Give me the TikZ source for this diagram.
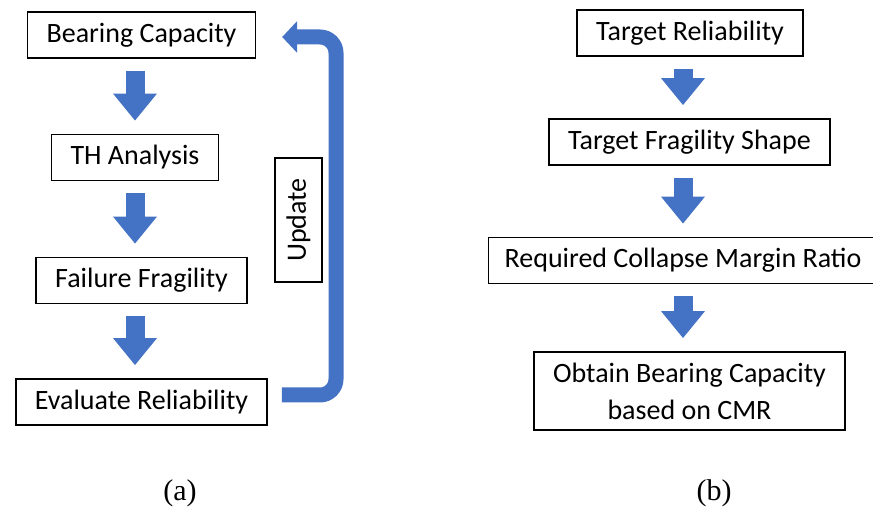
\documentclass[tikz,border=0pt]{standalone}
\usepackage{fontspec}
\setmainfont{Carlito}
\newfontfamily\capfont{Liberation Serif}
\usetikzlibrary{arrows.meta}
\definecolor{flowblue}{HTML}{4472C4}

\begin{document}
\begin{tikzpicture}[x=1pt, y=-1pt,
    font=\fontsize{28}{37}\selectfont,
    box/.style={rectangle,draw=black,line width=1.6pt,fill=white,
                minimum height=46pt,inner xsep=19pt,align=center},
    down/.style={-{Triangle[width=42pt,length=27pt]},flowblue,line width=19pt,
                 shorten <=12pt,shorten >=13pt},
    loopback/.style={-{Triangle[width=31pt,length=15pt]},flowblue,line width=15pt,
                 rounded corners=16pt,shorten <=14pt,shorten >=26pt},
    sublabel/.style={font=\capfont\fontsize{30}{34}\selectfont}]

  \useasboundingbox (0,0) rectangle (873,510);

  % (a) design loop
  \node[box] (bc) at (141.5, 35.0) {Bearing Capacity};
  \node[box] (th) at (135.0,157.5) {TH Analysis};
  \node[box] (ff) at (141.5,280.5) {Failure Fragility};
  \node[box] (er) at (141.5,402.0) {Evaluate Reliability};
  \node[box,rotate=90,minimum width=124pt,minimum height=47pt,inner xsep=4pt]
       (up) at (298.5,220) {Update};
  \coordinate (bend) at (336,395);

  \draw[down] (bc.south -| th.south) -- (th.north);
  \draw[down] (th.south) -- (th.south |- ff.north);
  \draw[down] (ff.south -| th.south) -- (th.south |- er.north);
  \draw[loopback] ([yshift=7pt]er.east) -- (bend) |- ([yshift=-2pt]bc.east);

  % (b) direct design
  \node[box] (tr)  at (690.0, 33.0) {Target Reliability};
  \node[box] (tfs) at (689.5,142.0) {Target Fragility Shape};
  \node[box,inner xsep=16pt] (cmr) at (683.0,260.5) {Required Collapse Margin Ratio};
  \node[box,minimum height=78pt] (ob) at (689.5,391.0)
       {Obtain Bearing Capacity\\based on CMR};

  \draw[down] (tr.south -| cmr.south) -- (cmr.south |- tfs.north);
  \draw[down] (tfs.south -| cmr.south) -- (cmr.north);
  \draw[down] (cmr.south) -- (cmr.south |- ob.north);

  \node[sublabel] (capa) at (180,493) {(a)};
  \node[sublabel] (capb) at (714,493) {(b)};
\end{tikzpicture}
\end{document}
